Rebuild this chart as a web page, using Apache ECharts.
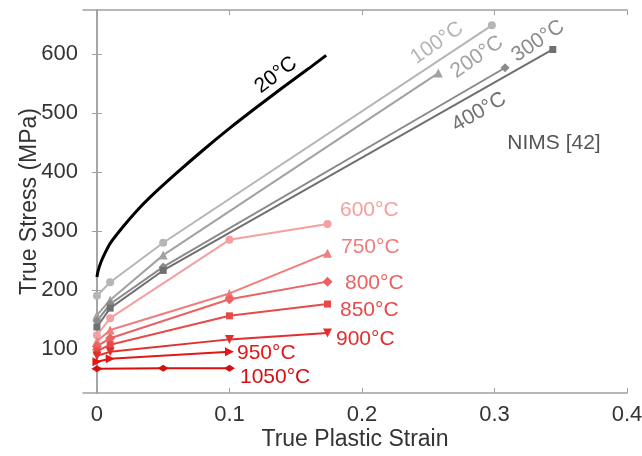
<!DOCTYPE html>
<html>
<head>
<meta charset="utf-8">
<script src="https://cdn.jsdelivr.net/npm/echarts@6/dist/echarts.min.js"></script>
<style>
  html, body { margin: 0; padding: 0; background: #fff; }
  #chart { width: 642px; height: 456px; }
</style>
</head>
<body>
<div id="chart"></div>
<script>
// strain / stress values
var strain20 = [0, 0.001, 0.003, 0.006, 0.01, 0.02, 0.03, 0.04, 0.06, 0.08, 0.1, 0.12, 0.14, 0.16, 0.173];
var stress20 = [222, 233, 247, 262, 279, 308, 334, 357, 398, 437, 474, 509, 543, 576, 598];

var strainNims = [0, 0.01, 0.05];
var stress100 = [190, 213, 280, 649];
var stress200 = [157, 183, 259, 568];
var stress300 = [147, 176, 239, 577];
var stress400 = [137, 169, 233, 608];
var endStrainNims = [0.298, 0.2576, 0.308, 0.344];

var strainHot = [0, 0.01, 0.1, 0.174];
var stress600 = [123, 152, 285, 312];
var stress750 = [113, 132, 194, 262];
var stress800 = [104, 118, 184, 214];
var stress850 = [96, 107, 156, 176];
var stress900 = [88, 95, 116, 127];
var strain950 = [0, 0.01, 0.1];
var stress950 = [78, 83, 95];
var strain1050 = [0, 0.05, 0.1];
var stress1050 = [66, 67, 67];

var xTicks = [0, 0.1, 0.2, 0.3, 0.4];
var yTicks = [100, 200, 300, 400, 500, 600];

var FONT = 'Liberation Sans, Arial, sans-serif';

function pairs(xs, ys) {
    var out = [];
    for (var i = 0; i < ys.length; i++) out.push([xs[i], ys[i]]);
    return out;
}

function line(name, data, color, symbol, size, rot) {
    return {
        name: name,
        type: 'line',
        data: data,
        symbol: symbol,
        symbolSize: size,
        symbolRotate: rot || 0,
        showSymbol: true,
        lineStyle: { color: color, width: 2 },
        itemStyle: { color: color },
        animation: false,
        z: 3
    };
}

var myChart = echarts.init(document.getElementById('chart'));

var axisGray = '#a0a0a0';

function label(text, x, y, color, deg, align) {
    return {
        type: 'text',
        x: x, y: y,
        rotation: (deg || 0) * Math.PI / 180,
        style: {
            text: text,
            fill: color,
            font: '21px ' + FONT,
            textAlign: align || 'center',
            textVerticalAlign: 'middle'
        },
        z: 10
    };
}

option = {
    backgroundColor: '#fff',
    animation: false,
    grid: { left: 83, right: 15, top: 10, bottom: 63, outerBoundsMode: 'none' },
    xAxis: [{
        type: 'value',
        min: -0.0105,
        max: 0.4,
        name: 'True Plastic Strain',
        nameLocation: 'middle',
        nameGap: 35,
        nameMoveOverlap: false,
        nameTextStyle: { fontSize: 23, color: '#333', fontFamily: FONT },
        axisLine: { show: true, lineStyle: { color: axisGray, width: 1.5 } },
        axisTick: { show: true, inside: true, length: 5, customValues: xTicks, lineStyle: { color: axisGray } },
        axisLabel: { customValues: xTicks, fontSize: 22, color: '#333', margin: 11, fontFamily: FONT },
        splitLine: { show: false }
    }, {
        type: 'value',
        position: 'top',
        min: -0.0105,
        max: 0.4,
        axisLine: { show: true, lineStyle: { color: axisGray, width: 1.5 } },
        axisTick: { show: true, inside: true, length: 5, customValues: xTicks, lineStyle: { color: axisGray } },
        axisLabel: { show: false },
        splitLine: { show: false }
    }],
    yAxis: [{
        type: 'value',
        min: 25,
        max: 675,
        name: 'True Stress (MPa)',
        nameLocation: 'middle',
        nameGap: 42,
        nameMoveOverlap: false,
        nameTextStyle: { fontSize: 23, color: '#333', fontFamily: FONT },
        axisLine: { show: true, lineStyle: { color: axisGray, width: 1.5 } },
        axisTick: { show: true, inside: true, length: 5, customValues: yTicks, lineStyle: { color: axisGray } },
        axisLabel: { customValues: yTicks, fontSize: 22, color: '#333', margin: 5, fontFamily: FONT },
        splitLine: { show: false }
    }, {
        type: 'value',
        position: 'right',
        min: 25,
        max: 675,
        axisLine: { show: true, lineStyle: { color: axisGray, width: 1.5 } },
        axisTick: { show: true, inside: true, length: 5, customValues: yTicks, lineStyle: { color: axisGray } },
        axisLabel: { show: false },
        splitLine: { show: false }
    }],
    series: [
        {
            name: '20°C', type: 'line', data: pairs(strain20, stress20),
            showSymbol: false, smooth: 0.2,
            lineStyle: { color: '#000', width: 3 }, itemStyle: { color: '#000' }, z: 4
        },
        line('100°C', pairs(strainNims.concat([endStrainNims[0]]), stress100), '#b5b5b5', 'circle', 8),
        line('200°C', pairs(strainNims.concat([endStrainNims[1]]), stress200), '#a2a2a2', 'triangle', 9),
        line('300°C', pairs(strainNims.concat([endStrainNims[2]]), stress300), '#8a8a8a', 'diamond', 9),
        line('400°C', pairs(strainNims.concat([endStrainNims[3]]), stress400), '#707070', 'rect', 7),
        line('600°C', pairs(strainHot, stress600), '#f5a0a0', 'circle', 8),
        line('750°C', pairs(strainHot, stress750), '#f07c7c', 'triangle', 9),
        line('800°C', pairs(strainHot, stress800), '#eb6262', 'diamond', 10),
        line('850°C', pairs(strainHot, stress850), '#e64a4a', 'rect', 7),
        line('900°C', pairs(strainHot, stress900), '#e32e2e', 'triangle', 9, 180),
        line('950°C', pairs(strain950, stress950), '#e01818', 'triangle', 9, -90),
        line('1050°C', pairs(strain1050, stress1050), '#d41010', 'diamond', [11, 7])
    ],
    graphic: [
        label('20°C', 276, 75, '#000', 37),
        label('100°C', 437, 43, '#b5b5b5', 35),
        label('200°C', 477, 57, '#a2a2a2', 35),
        label('300°C', 538, 41, '#8a8a8a', 34),
        label('400°C', 479, 112, '#707070', 30),
        label('NIMS [42]', 554, 143, '#555', 0),
        label('600°C', 340, 210, '#f5a0a0', 0, 'left'),
        label('750°C', 341, 247, '#f07c7c', 0, 'left'),
        label('800°C', 345, 283, '#eb6262', 0, 'left'),
        label('850°C', 340, 310, '#e64a4a', 0, 'left'),
        label('900°C', 336, 339, '#e32e2e', 0, 'left'),
        label('950°C', 237, 353, '#e01818', 0, 'left'),
        label('1050°C', 240, 377, '#d41010', 0, 'left')
    ]
};

myChart.setOption(option);
</script>
</body>
</html>
